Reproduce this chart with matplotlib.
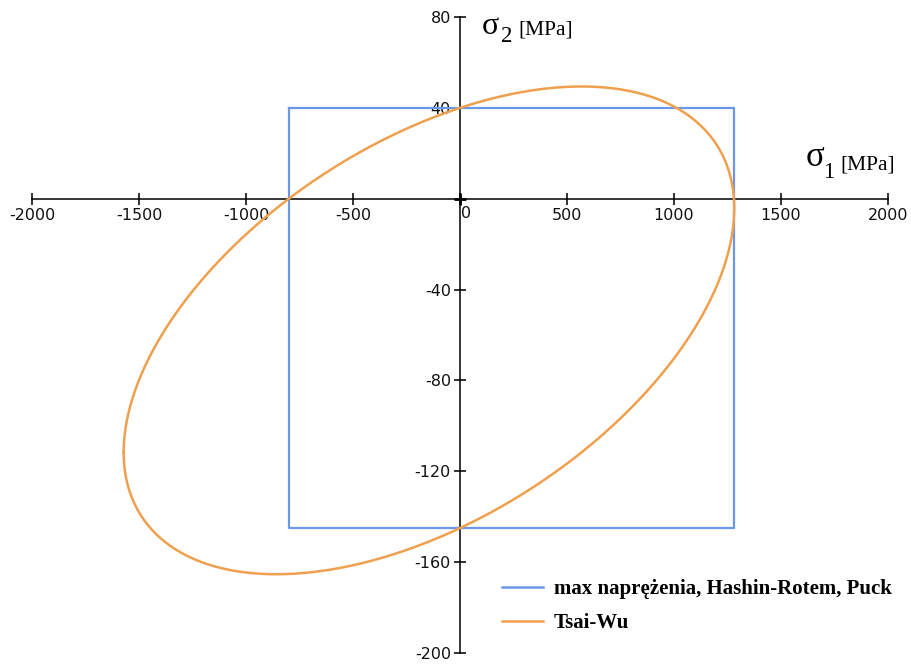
import numpy as np
import matplotlib
matplotlib.use("Agg")
import matplotlib.pyplot as plt
from matplotlib.lines import Line2D

# Lamina strengths [MPa]
Xt = 1280.0   # tensile strength along fibres
Xc = 800.0    # compressive strength along fibres
Yt = 40.0     # tensile strength transverse
Yc = 145.0    # compressive strength transverse
F12_star = -0.5  # normalised Tsai-Wu interaction coefficient

x_ticks = [-2000, -1500, -1000, -500, 0, 500, 1000, 1500, 2000]
y_ticks = [-200, -160, -120, -80, -40, 40, 80]

labels = ["max naprężenia, Hashin-Rotem, Puck", "Tsai-Wu"]
col_rect = "#6a98e6"
col_tw = "#efa04e"

# Max-stress rectangle
rect_x = [-Xc, Xt, Xt, -Xc, -Xc]
rect_y = [Yt, Yt, -Yc, -Yc, Yt]

# Tsai-Wu: F1 s1 + F2 s2 + F11 s1^2 + F22 s2^2 + 2 F12 s1 s2 = 1
F1 = 1 / Xt - 1 / Xc
F2 = 1 / Yt - 1 / Yc
F11 = 1 / (Xt * Xc)
F22 = 1 / (Yt * Yc)
F12 = F12_star * np.sqrt(F11 * F22)
A = np.array([[F11, F12], [F12, F22]])
b = np.array([F1, F2])
c = np.linalg.solve(2 * A, -b)
k = 1 + c @ A @ c
w, V = np.linalg.eigh(A)
t = np.linspace(0, 2 * np.pi, 1000)
u = np.vstack([np.cos(t) * np.sqrt(k / w[0]), np.sin(t) * np.sqrt(k / w[1])])
pts = V @ u + c[:, None]
tw_x, tw_y = pts[0], pts[1]

W, H = 912, 664
plt.rcParams["axes.unicode_minus"] = False
fig = plt.figure(figsize=(W / 100, H / 100), dpi=100)
ax = fig.add_axes([32 / W, (H - 653) / H, 856 / W, 636 / H])

ax.plot(rect_x, rect_y, color=col_rect, lw=1.6, zorder=3)
ax.plot(tw_x, tw_y, color=col_tw, lw=1.8, zorder=4)
ax.plot([0], [0], marker="+", color="black", ms=9, mew=2, zorder=6)

ax.set_xlim(-2000, 2000)
ax.set_ylim(-200, 80)
for s in ["top", "right"]:
    ax.spines[s].set_visible(False)
ax.spines["left"].set_position(("data", 0))
ax.spines["bottom"].set_position(("data", 0))
for s in ["left", "bottom"]:
    ax.spines[s].set_linewidth(1.1)
    ax.spines[s].set_zorder(2)

tick_size = 11.5
tick_font = dict(family="DejaVu Sans", size=tick_size)
ax.set_xticks(x_ticks)
ax.set_xticklabels(["" if v == 0 else str(v) for v in x_ticks], fontdict=tick_font, color="#111111")
ax.set_yticks(y_ticks)
ax.set_yticklabels([str(v) for v in y_ticks], fontdict=tick_font, color="#111111")
ax.tick_params(axis="both", direction="inout", length=9, width=1.2, colors="#111111")
ax.tick_params(axis="x", pad=2)
ax.tick_params(axis="y", pad=2)
ax.annotate("0", xy=(0, 0), xytext=(6, -7), textcoords="offset pixels",
            ha="center", va="top", fontsize=tick_size, family="DejaVu Sans", color="#111111")

# Axis titles built from pieces: sigma, subscript, unit
serif = "Liberation Serif"
def fx(px):
    return px / W
def fy(py):
    return 1 - py / H

fig.text(fx(806), fy(166), "σ", fontsize=25, family=serif, va="baseline")
fig.text(fx(823), fy(178), "1", fontsize=16.5, family=serif, va="baseline")
fig.text(fx(840), fy(169), "[MPa]", fontsize=15.5, family=serif, va="baseline")

fig.text(fx(482), fy(34), "σ", fontsize=23, family=serif, va="baseline")
fig.text(fx(501), fy(42), "2", fontsize=16.5, family=serif, va="baseline")
fig.text(fx(518), fy(35), "[MPa]", fontsize=15.5, family=serif, va="baseline")

handles = [Line2D([], [], color=col_rect, lw=1.8), Line2D([], [], color=col_tw, lw=1.8)]
ax.legend(handles, labels, loc="upper left", bbox_to_anchor=(502 / W, fy(579)),
          bbox_transform=fig.transFigure, frameon=False,
          prop=dict(family=serif, size=15, weight="bold"),
          handlelength=1.95, handletextpad=0.55, labelspacing=0.68, borderaxespad=0,
          borderpad=0)

fig.savefig("out.png", dpi=100, facecolor="white")
